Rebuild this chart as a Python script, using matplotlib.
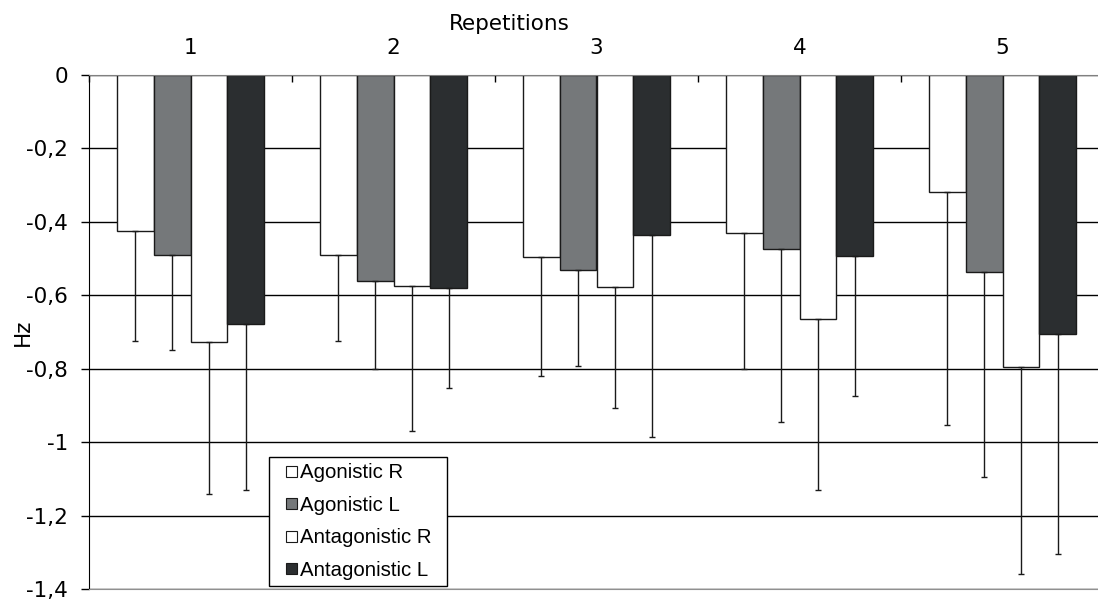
import matplotlib
matplotlib.use("Agg")
import matplotlib.pyplot as plt
import numpy as np
from matplotlib.patches import Patch, Rectangle
from matplotlib.legend_handler import HandlerPatch

plt.rcParams['font.family'] = ['DejaVu Sans']

categories = ["1", "2", "3", "4", "5"]
series_names = ["Agonistic R", "Agonistic L", "Antagonistic R", "Antagonistic L"]
agonistic_r = [-0.426, -0.491, -0.497, -0.429, -0.320]
agonistic_l = [-0.491, -0.562, -0.532, -0.475, -0.537]
antagonistic_r = [-0.728, -0.575, -0.578, -0.665, -0.794]
antagonistic_l = [-0.679, -0.580, -0.435, -0.492, -0.706]
sd_agonistic_r = [0.299, 0.234, 0.324, 0.371, 0.632]
sd_agonistic_l = [0.259, 0.240, 0.261, 0.470, 0.558]
sd_antagonistic_r = [0.413, 0.395, 0.330, 0.464, 0.565]
sd_antagonistic_l = [0.450, 0.273, 0.551, 0.382, 0.600]
yticks = [0, -0.2, -0.4, -0.6, -0.8, -1.0, -1.2, -1.4]
ytick_labels = ["0", "-0,2", "-0,4", "-0,6", "-0,8", "-1", "-1,2", "-1,4"]

values = [agonistic_r, agonistic_l, antagonistic_r, antagonistic_l]
sds = [sd_agonistic_r, sd_agonistic_l, sd_antagonistic_r, sd_antagonistic_l]
colors = ["white", "#75787a", "white", "#2b2e30"]

W, H = 1098, 600
fig = plt.figure(figsize=(W / 100, H / 100), dpi=100)
left, right, top, bottom = 89, 1104, 75, 589
ax = fig.add_axes([left / W, (H - bottom) / H, (right - left) / W, (bottom - top) / H])

n = len(categories)
x = np.arange(n) + 0.5
bw = 0.1813
for j, (vals, sd, c) in enumerate(zip(values, sds, colors)):
    pos = x + (j - 1.5) * bw
    ax.bar(pos, vals, width=bw, color=c, edgecolor="#1a1a1a", linewidth=1.0, zorder=2)
    ax.errorbar(pos, vals, yerr=[sd, [0] * n], fmt="none", ecolor="#1a1a1a",
                elinewidth=1.0, capsize=2.5, capthick=1.0, zorder=3)

tick_font = 15.5
ax.set_xlim(0, n)
ax.set_ylim(-1.4, 0)
ax.set_yticks(yticks)
ax.set_yticklabels(ytick_labels, fontsize=tick_font)
ax.yaxis.grid(True, color="black", linewidth=1.0)
ax.set_axisbelow(True)

ax.xaxis.tick_top()
ax.xaxis.set_label_position("top")
ax.set_xticks(x)
ax.set_xticklabels(categories, fontsize=tick_font)
ax.set_xticks(np.arange(n + 1), minor=True)
ax.tick_params(axis="x", which="major", length=0, pad=12)
ax.tick_params(axis="x", which="minor", direction="in", length=5, width=1, color="black")
ax.tick_params(axis="y", direction="out", length=6, width=1, pad=9)
ax.set_xlabel("Repetitions", fontsize=tick_font)
ax.xaxis.set_label_coords((509 - left) / (right - left), 1 + (bottom - 570) / (bottom - top) * 0 + (75 - 30) / (bottom - top))
ax.set_ylabel("Hz", fontsize=tick_font)
ax.yaxis.set_label_coords((33 - left) / (right - left), 0.5)

ax.spines["right"].set_visible(False)
ax.spines["top"].set_color("#808080")
ax.spines["bottom"].set_color("#909090")
ax.spines["left"].set_color("black")


class OffsetSquare(HandlerPatch):
    def create_artists(self, legend, orig_handle, xdescent, ydescent, width, height, fontsize, trans):
        side = 0.54 * fontsize
        p = Rectangle((-xdescent + width - side, -ydescent + (height - side) / 2), side, side,
                      facecolor=orig_handle.get_facecolor(), edgecolor="#1a1a1a", linewidth=0.8,
                      transform=trans)
        return [p]


leg_font = 14.7
handles = [Patch(facecolor=c, edgecolor="#1a1a1a", linewidth=0.8) for c in colors]
bx0 = (269 - left) / (right - left)
by0 = (bottom - 586) / (bottom - top)
bw_leg = (447 - 269) / (right - left)
bh_leg = (586 - 457) / (bottom - top)
leg = ax.legend(handles, series_names, loc="lower left",
                bbox_to_anchor=(bx0, by0, bw_leg, bh_leg), mode="expand",
                borderaxespad=0, handlelength=1.06, handleheight=0.54,
                handletextpad=0.15, labelspacing=0.66, fancybox=False, framealpha=1,
                edgecolor="black", borderpad=0.3,
                prop={"family": "Liberation Sans", "size": leg_font},
                handler_map={Patch: OffsetSquare()})
leg.get_frame().set_linewidth(1.0)

fig.savefig("out.png", dpi=100)
